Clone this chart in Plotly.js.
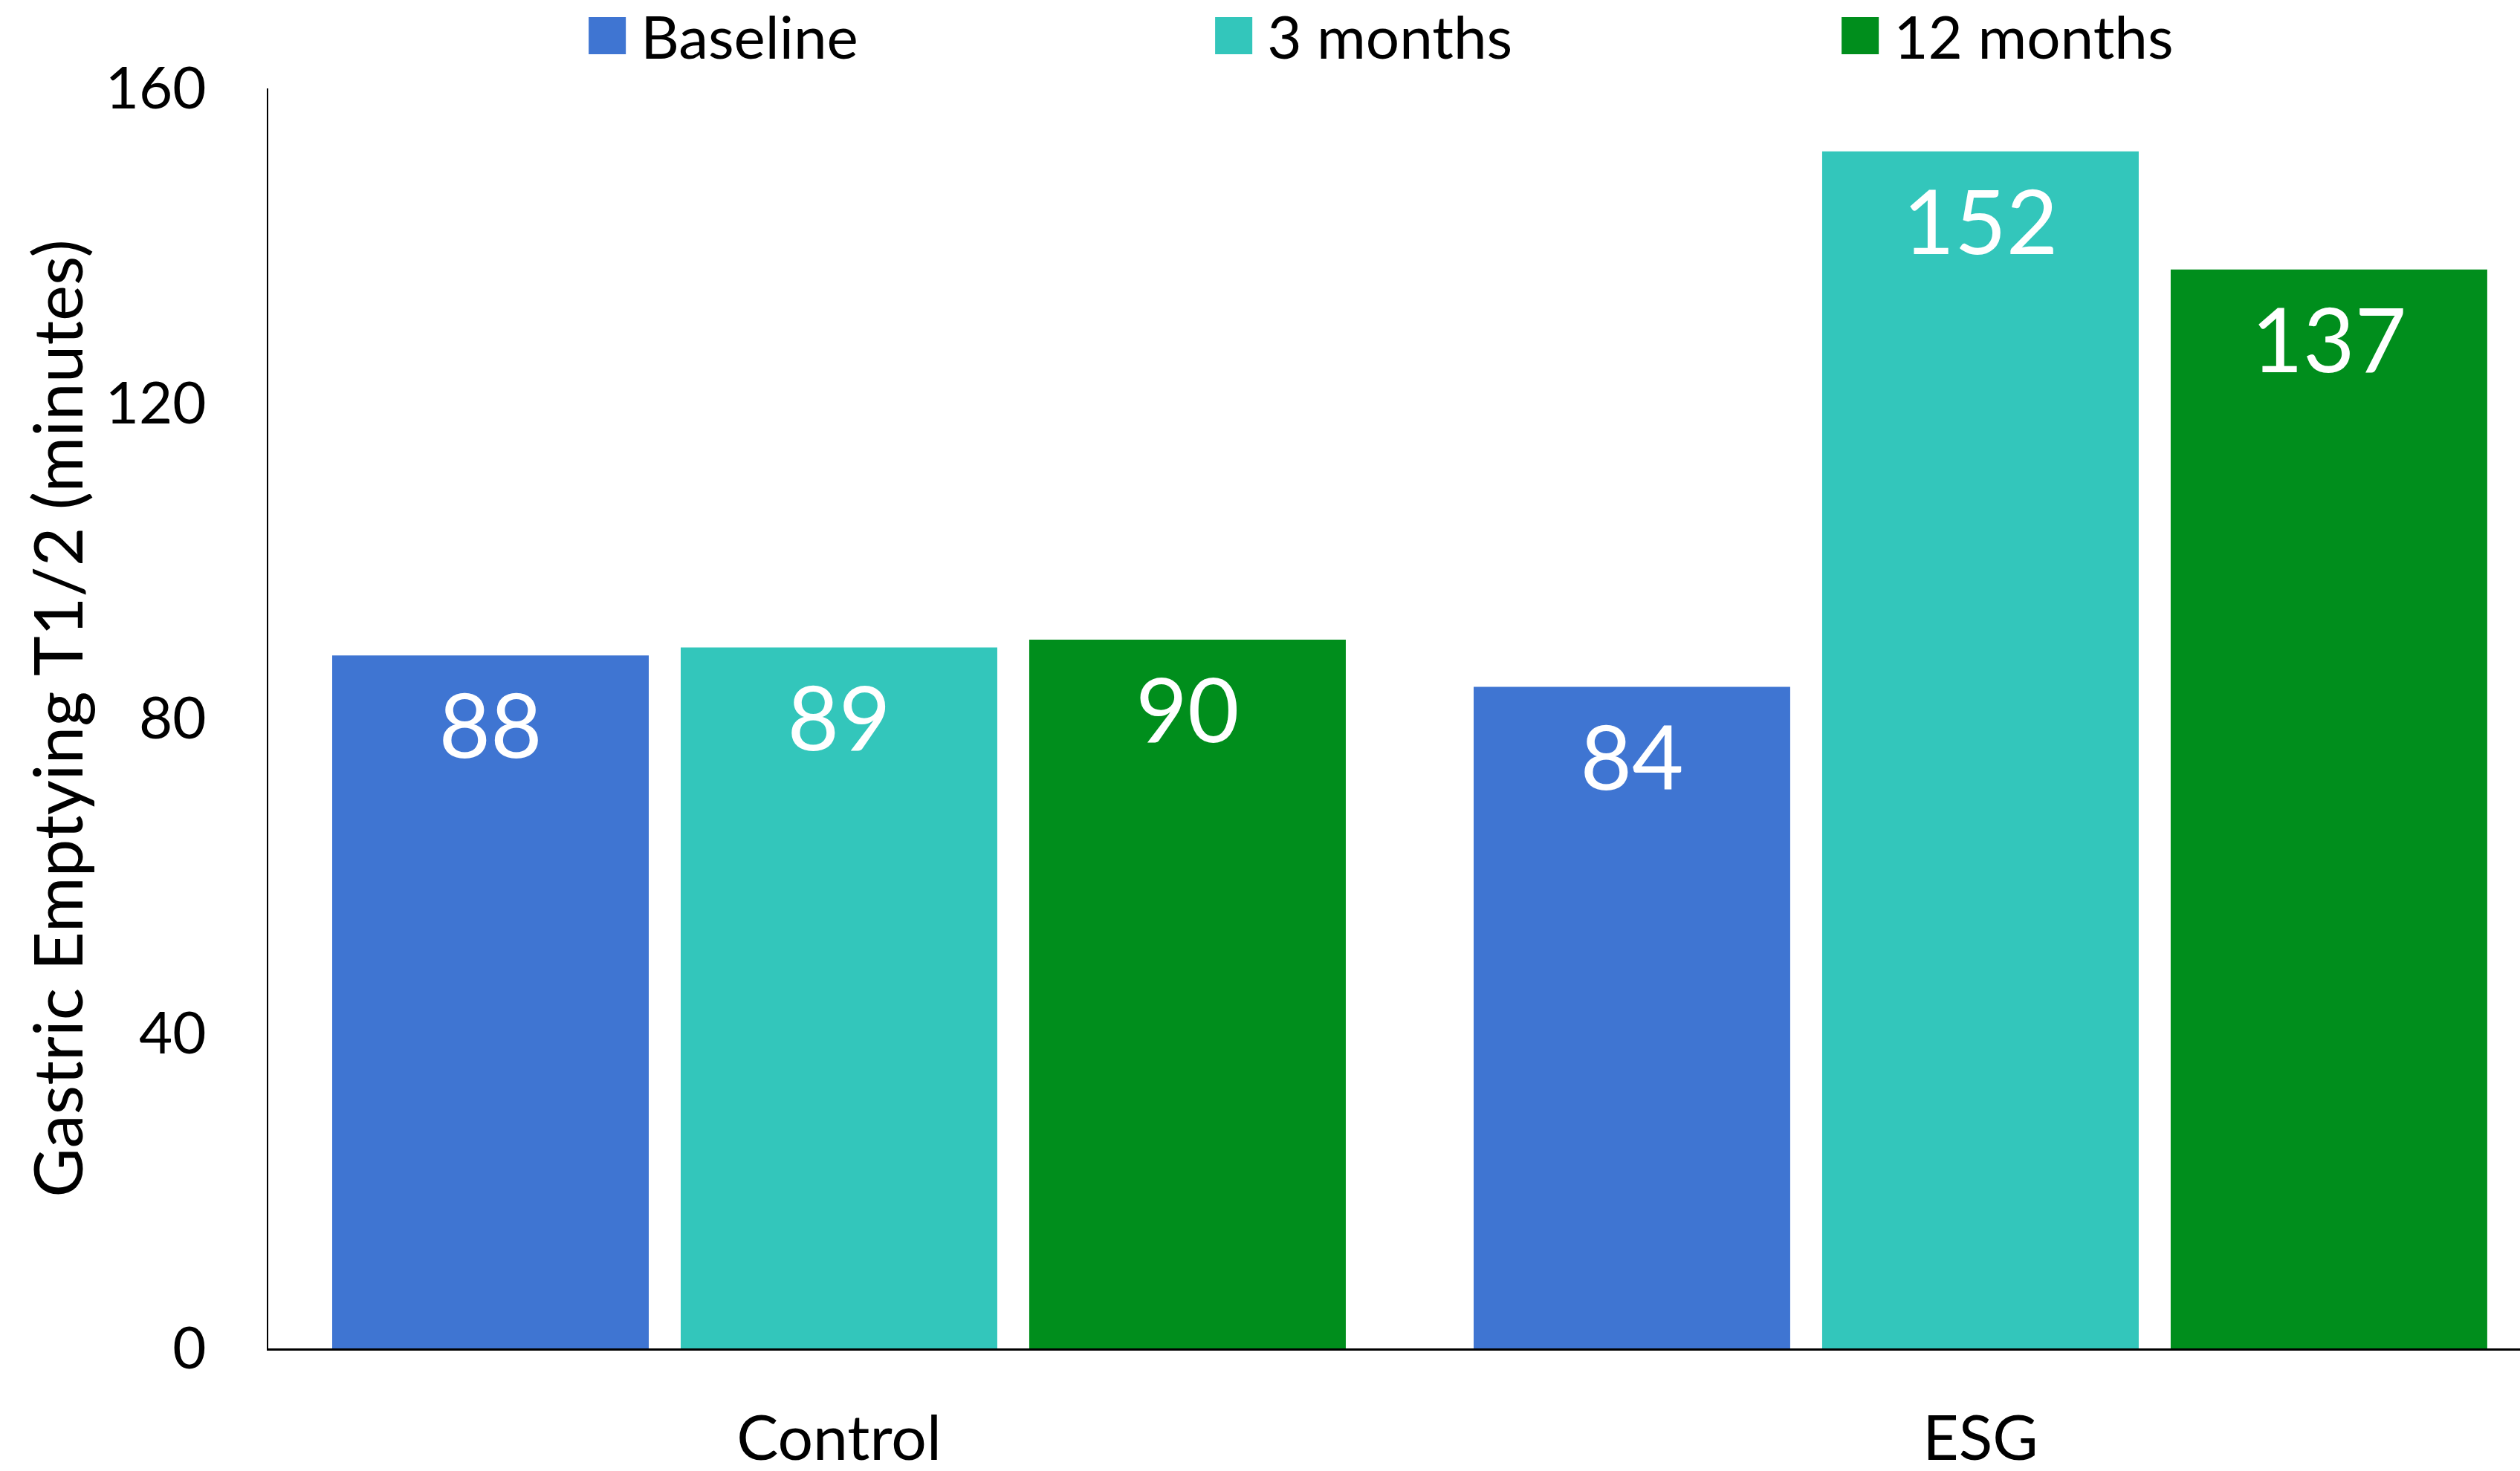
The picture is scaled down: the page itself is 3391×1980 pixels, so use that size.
<!DOCTYPE html>
<html>
<head>
<meta charset="utf-8">
<script src="https://cdn.plot.ly/plotly-3.0.1.min.js"></script>
<style>
  html, body { margin: 0; padding: 0; background: #ffffff; }
  #chart { width: 3391px; height: 1980px; }
</style>
</head>
<body>
<div id="chart"></div>
<script>
// Gastric emptying half-time by group and time point
const groups = ["Control", "ESG"];
const seriesNames = ["Baseline", "3 months", "12 months"];
const baseline = [88, 84];
const threeMonths = [89, 152];
const twelveMonths = [90, 137];
const yTicks = [0, 40, 80, 120, 160];
const yTitle = "Gastric Emptying T1/2 (minutes)";

const colors = ["#3F75D2", "#33C6BB", "#008E1C"];
const FONT = "Lato, 'Open Sans', 'Noto Sans', sans-serif";

function barTrace(name, values, color) {
  return {
    type: "bar",
    name: name,
    x: groups,
    y: values,
    text: values.map(String),
    textposition: "inside",
    insidetextanchor: "end",
    textangle: 0,
    constraintext: "none",
    insidetextfont: { family: FONT, size: 120, color: "#ffffff" },
    marker: { color: color, line: { width: 0 } },
    hoverinfo: "skip"
  };
}

const data = [
  barTrace(seriesNames[0], baseline, colors[0]),
  barTrace(seriesNames[1], threeMonths, colors[1]),
  barTrace(seriesNames[2], twelveMonths, colors[2])
];

const layout = {
  width: 3391,
  height: 1980,
  paper_bgcolor: "#ffffff",
  plot_bgcolor: "#ffffff",
  margin: { l: 361, r: 0, t: 119, b: 165, autoexpand: false },
  font: { family: FONT, color: "#000000" },
  barmode: "group",
  bargap: 0.084,
  bargroupgap: 0.0917,
  showlegend: true,
  legend: {
    orientation: "h",
    xref: "container",
    yref: "container",
    x: 0.2277,
    xanchor: "left",
    y: 0.9758,
    yanchor: "middle",
    font: { family: FONT, size: 80, color: "#000000" },
    itemwidth: 80,
    entrywidth: 748,
    entrywidthmode: "pixels",
    traceorder: "normal",
    bgcolor: "rgba(0,0,0,0)"
  },
  xaxis: {
    type: "category",
    range: [-0.5, 1.4727],
    showgrid: false,
    zeroline: false,
    showline: true,
    linecolor: "#000000",
    linewidth: 3,
    ticks: "",
    ticklabelstandoff: 46,
    tickfont: { family: FONT, size: 84, color: "#000000" },
    automargin: false,
    fixedrange: true
  },
  yaxis: {
    range: [0, 160],
    tickvals: yTicks,
    ticktext: yTicks.map(String),
    showgrid: false,
    zeroline: false,
    showline: true,
    linecolor: "#000000",
    linewidth: 2,
    ticks: "",
    ticklabelstandoff: 66,
    tickfont: { family: FONT, size: 78, color: "#000000" },
    title: {
      text: yTitle,
      font: { family: FONT, size: 91, color: "#000000" },
      standoff: 0
    },
    automargin: false,
    fixedrange: true
  }
};

const gd = document.getElementById("chart");

// bigger legend swatches and value labels set a little lower inside the bars
function finishStyling() {
  gd.querySelectorAll(".legend .legendpoints path").forEach(function (p) {
    if (p.getAttribute("data-grown") === "1") return;
    p.setAttribute("transform", (p.getAttribute("transform") || "") + " scale(4.17)");
    p.setAttribute("data-grown", "1");
  });
  gd.querySelectorAll(".barlayer text.bartext").forEach(function (t) {
    if (t.getAttribute("data-shifted") === "1") return;
    t.setAttribute("transform", "translate(0,17) " + (t.getAttribute("transform") || ""));
    t.setAttribute("data-shifted", "1");
  });
}

Plotly.newPlot(gd, data, layout, { staticPlot: true, displayModeBar: false }).then(function () {
  finishStyling();
  gd.on("plotly_afterplot", finishStyling);
  setTimeout(finishStyling, 50);
  setTimeout(finishStyling, 300);
});
</script>
</body>
</html>
